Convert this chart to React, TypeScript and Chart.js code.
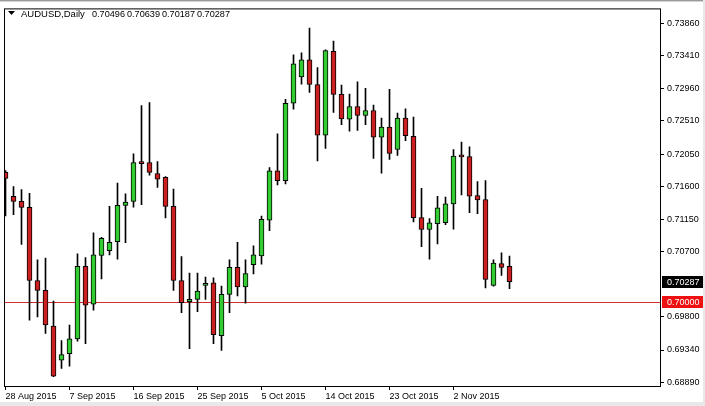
import { useEffect, useRef } from "react";
import { Chart, registerables } from "chart.js";

Chart.register(...registerables);

const symbol = "AUDUSD";
const period = "Daily";

const dateLabels = [
  "28 Aug 2015",
  "7 Sep 2015",
  "16 Sep 2015",
  "25 Sep 2015",
  "5 Oct 2015",
  "14 Oct 2015",
  "23 Oct 2015",
  "2 Nov 2015",
];
const dateTickIndex = [0, 8, 16, 24, 32, 40, 48, 56];

const opens = [
  0.71796, 0.71467, 0.71395, 0.71313, 0.70301, 0.70165, 0.69672, 0.69198, 0.69289, 0.69495,
  0.70497, 0.69973, 0.70647, 0.70715, 0.70838, 0.7134, 0.71395, 0.71921, 0.71932, 0.71782,
  0.71727, 0.71327, 0.70301, 0.70009, 0.70041, 0.70233, 0.70268, 0.6954, 0.7011, 0.70483,
  0.70214, 0.7052, 0.70643, 0.71135, 0.71819, 0.71682, 0.72753, 0.73118, 0.73354, 0.73012,
  0.72311, 0.73473, 0.72876, 0.72534, 0.72707, 0.72584, 0.72653, 0.72284, 0.72424, 0.72114,
  0.72548, 0.72297, 0.71171, 0.71007, 0.71089, 0.71102, 0.71362, 0.72016, 0.72014, 0.71477,
  0.71422, 0.70233, 0.70534, 0.70496,
];
const highs = [
  0.71823, 0.716, 0.71559, 0.71508, 0.70588, 0.7061, 0.70018, 0.69471, 0.69686, 0.7067,
  0.7062, 0.70962, 0.70897, 0.71327, 0.71649, 0.71499, 0.72055, 0.72721, 0.72762, 0.71946,
  0.7174, 0.71567, 0.70633, 0.70405, 0.70405, 0.7035, 0.70337, 0.70223, 0.70588, 0.70829,
  0.70588, 0.7078, 0.71194, 0.71864, 0.72329, 0.72807, 0.73423, 0.7345, 0.73792, 0.73245,
  0.73491, 0.73614, 0.73003, 0.7288, 0.73049, 0.72958, 0.72729, 0.72548, 0.72944, 0.72616,
  0.72675, 0.72561, 0.71577, 0.71157, 0.71467, 0.71454, 0.72114, 0.72215, 0.72151, 0.71668,
  0.71682, 0.70588, 0.70684, 0.70639,
];
const lows = [
  0.71194, 0.71212, 0.70802, 0.69754, 0.69799, 0.69571, 0.6897, 0.69084, 0.69116, 0.69462,
  0.69426, 0.69891, 0.70323, 0.70657, 0.70597, 0.70825, 0.71317, 0.71349, 0.71759, 0.7159,
  0.71167, 0.70165, 0.69858, 0.69358, 0.69872, 0.70041, 0.69426, 0.69335, 0.69858, 0.70087,
  0.69987, 0.70391, 0.70528, 0.70989, 0.71622, 0.71636, 0.72671, 0.73016, 0.72903, 0.71956,
  0.72128, 0.72625, 0.72456, 0.72366, 0.72379, 0.72456, 0.71991, 0.71786, 0.71977, 0.72032,
  0.72237, 0.71112, 0.7077, 0.70597, 0.70807, 0.71075, 0.71012, 0.71485, 0.71239, 0.71225,
  0.702, 0.70223, 0.7037, 0.70187,
];
const closes = [
  0.71714, 0.71395, 0.71313, 0.70301, 0.70165, 0.69686, 0.68979, 0.69276, 0.69495, 0.70497,
  0.69959, 0.70657, 0.70884, 0.70829, 0.7134, 0.71385, 0.71932, 0.71918, 0.71796, 0.71704,
  0.71327, 0.70301, 0.69995, 0.70041, 0.70155, 0.7026, 0.69553, 0.7011, 0.70483, 0.70214,
  0.70397, 0.70657, 0.71149, 0.71819, 0.71682, 0.72753, 0.73299, 0.73354, 0.73012, 0.72311,
  0.73481, 0.72876, 0.72538, 0.72707, 0.72584, 0.72653, 0.72284, 0.72424, 0.72059, 0.72548,
  0.72306, 0.71171, 0.71007, 0.71098, 0.71307, 0.71362, 0.72024, 0.72012, 0.71467, 0.71417,
  0.70315, 0.70542, 0.70483, 0.70287,
];

const yTickValues = [
  0.7386, 0.7341, 0.7296, 0.7251, 0.7205, 0.716, 0.7115, 0.707, 0.698, 0.6934, 0.6889,
];
const levelLine = 0.7;

const FONT = "'Liberation Sans', Arial, sans-serif";
const BULL = "#33cc33";
const BEAR = "#cc2020";

export default function App() {
  const ref = useRef<HTMLCanvasElement | null>(null);

  useEffect(() => {
    const canvas = ref.current;
    if (!canvas) return;
    const n = opens.length;
    const bodyData = opens.map((o, i) => ({ x: i, y: [o, closes[i]] }));
    const wickData = lows.map((l, i) => ({ x: i, y: [l, highs[i]] }));
    const bodyColors = opens.map((o, i) => (closes[i] > o ? BULL : BEAR));
    const lastClose = closes[n - 1];
    const head = `${symbol},${period}`;
    const ohlc = [opens[n - 1], highs[n - 1], lows[n - 1], closes[n - 1]];

    const decor = {
      id: "mt4decor",
      beforeDraw(chart: any) {
        const ctx = chart.ctx;
        ctx.save();
        ctx.fillStyle = "#ffffff";
        ctx.fillRect(0, 0, chart.width, chart.height);
        ctx.fillStyle = "#9a9a9a";
        ctx.fillRect(0, 0, chart.width, 1);
        ctx.fillStyle = "#d4d4d4";
        ctx.fillRect(0, 1, chart.width, 1);
        ctx.fillStyle = "#e8e8e8";
        ctx.fillRect(0, 402, chart.width, 4);
        ctx.fillRect(703, 0, 2, chart.height);
        ctx.restore();
      },
      beforeDatasetsDraw(chart: any) {
        const ctx = chart.ctx;
        const a = chart.chartArea;
        const y = Math.round(chart.scales.y.getPixelForValue(levelLine)) + 0.5;
        ctx.save();
        ctx.strokeStyle = "#cc3030";
        ctx.lineWidth = 1;
        ctx.beginPath();
        ctx.moveTo(a.left, y);
        ctx.lineTo(a.right, y);
        ctx.stroke();
        ctx.restore();
      },
      afterDraw(chart: any) {
        const ctx = chart.ctx;
        const a = chart.chartArea;
        ctx.save();
        ctx.strokeStyle = "#000";
        ctx.lineWidth = 1;
        ctx.strokeRect(a.left + 0.5, a.top + 0.5, a.right - a.left, a.bottom - a.top);

        // title
        ctx.fillStyle = "#000";
        ctx.beginPath();
        ctx.moveTo(8, 11);
        ctx.lineTo(15, 11);
        ctx.lineTo(11.5, 15);
        ctx.closePath();
        ctx.fill();
        ctx.textAlign = "left";
        ctx.textBaseline = "alphabetic";
        ctx.font = `9.5px ${FONT}`;
        ctx.fillText(head, 21, 17);
        const headEnd = 21 + ctx.measureText(head).width;
        // numbers laid out to match the terminal's wider digit font
        ctx.font = `9px ${FONT}`;
        const numW = ctx.measureText("0.00000").width;
        let x = Math.max(headEnd + 6, 92);
        const pitch = 35;
        ohlc.forEach((v) => {
          const s = v.toFixed(5);
          const w = ctx.measureText(s).width;
          ctx.save();
          ctx.translate(x, 17);
          ctx.scale(33 / numW, 1);
          ctx.fillText(s, 0, 0);
          ctx.restore();
          x += pitch;
          void w;
        });

        // price labels
        ctx.font = `9px ${FONT}`;
        ctx.textBaseline = "middle";
        const drawLabel = (v: number, bg: string) => {
          const py = Math.round(chart.scales.y.getPixelForValue(v));
          ctx.fillStyle = bg;
          ctx.fillRect(a.right + 2, py - 6, 41, 12);
          ctx.fillStyle = "#fff";
          ctx.fillText(v.toFixed(5), a.right + 7, py + 0.5);
        };
        drawLabel(lastClose, "#000000");
        drawLabel(levelLine, "#ee1111");
        ctx.restore();
      },
    };

    const chart = new Chart(canvas, {
      type: "bar",
      data: {
        datasets: [
          {
            label: "body",
            data: bodyData as any,
            backgroundColor: bodyColors,
            borderColor: "#000",
            borderWidth: 1,
            borderSkipped: false,
            barThickness: 5,
            minBarLength: 2,
            grouped: false,
            order: 0,
          } as any,
          {
            label: "wick",
            data: wickData as any,
            backgroundColor: "#000",
            borderWidth: 0,
            barThickness: 1,
            grouped: false,
            order: 1,
          } as any,
        ],
      },
      options: {
        animation: false,
        responsive: false,
        devicePixelRatio: 1,
        events: [],
        layout: { padding: { top: 4, left: 4, right: 0, bottom: 0 } },
        plugins: {
          legend: { display: false },
          tooltip: { enabled: false },
          title: { display: false },
        },
        scales: {
          x: {
            type: "linear",
            min: -0.1875,
            max: 81.8125,
            offset: false,
            grid: {
              display: true,
              drawOnChartArea: false,
              drawTicks: true,
              tickLength: 4,
              color: "#000",
              offset: false,
            },
            border: { display: false },
            ticks: {
              autoSkip: false,
              maxRotation: 0,
              minRotation: 0,
              align: "start",
              padding: 1,
              color: "#000",
              font: { family: FONT, size: 9 },
              callback: (_v: any, i: number) => dateLabels[i],
            },
            afterBuildTicks: (s: any) => {
              s.ticks = dateTickIndex.map((v) => ({ value: v }));
            },
            afterFit: (s: any) => {
              s.height = 20;
            },
          } as any,
          y: {
            type: "linear",
            position: "right",
            min: 0.688422,
            max: 0.740651,
            grid: {
              display: true,
              drawOnChartArea: false,
              drawTicks: true,
              tickLength: 4,
              color: "#000",
            },
            border: { display: false },
            ticks: {
              autoSkip: false,
              padding: 3,
              color: "#000",
              font: { family: FONT, size: 9 },
              callback: (v: any) => Number(v).toFixed(5),
            },
            afterBuildTicks: (s: any) => {
              s.ticks = yTickValues.map((v) => ({ value: v }));
            },
            afterFit: (s: any) => {
              s.width = 45;
            },
          } as any,
        },
      },
      plugins: [decor],
    });

    return () => {
      chart.destroy();
    };
  }, []);

  return (
    <div style={{ position: "absolute", left: 0, top: 0, width: 705, height: 406 }}>
      <canvas ref={ref} width={705} height={406} style={{ display: "block" }} />
    </div>
  );
}
